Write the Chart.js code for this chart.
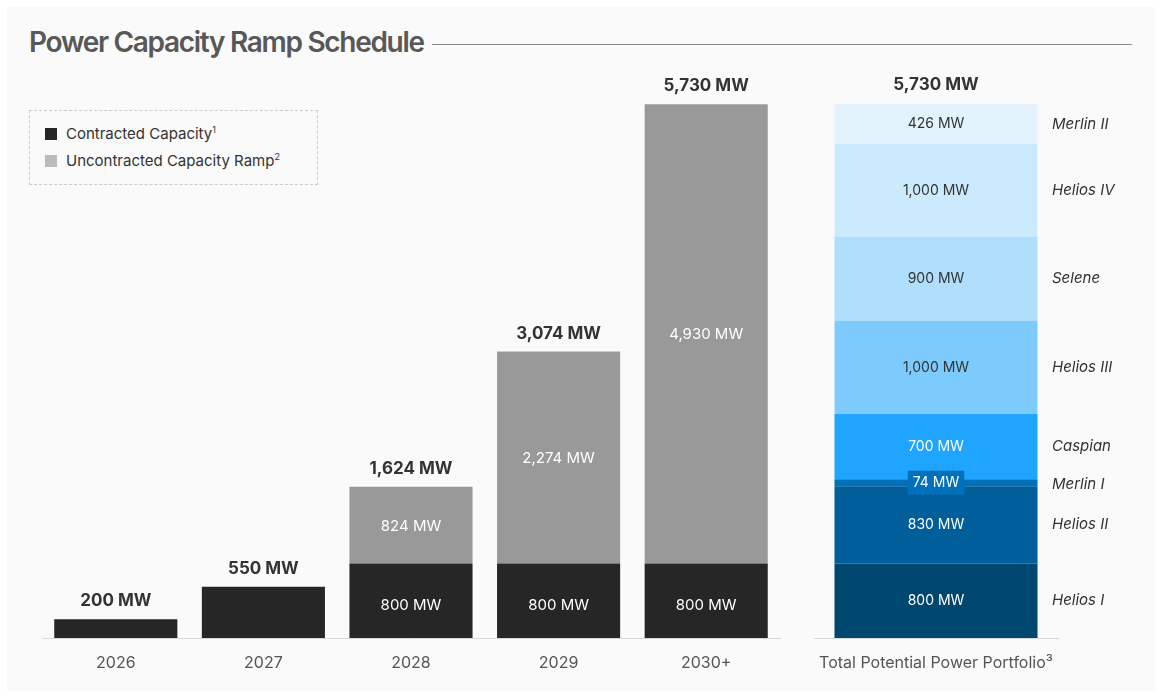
<!DOCTYPE html>
<html>
<head>
<meta charset="utf-8">
<script src="https://cdn.jsdelivr.net/npm/chart.js@4.4.1/dist/chart.umd.min.js"></script>
<style>
  html, body { margin:0; padding:0; background:#ffffff; }
  body { width:1162px; height:699px; position:relative; overflow:hidden; font-family: Inter, Roboto, sans-serif; }
  #panel { position:absolute; left:7px; top:7px; width:1148px; height:684px; background:#fafafa; }
  #title { position:absolute; left:29px; top:24px; font-family: Inter, sans-serif; font-weight:600; font-size:28px; letter-spacing:-1.3px; color:#585858; white-space:nowrap; line-height:36px; }
  #titleLine { position:absolute; left:432px; top:44px; width:700px; height:1px; background:#8a8a8a; }
  #legend { position:absolute; left:29px; top:110px; width:287px; height:73px; border:1px dashed #cccccc; }
  .li { position:absolute; left:15px; font-size:15px; color:#333; white-space:nowrap; line-height:18px; }
  .sw { display:inline-block; width:12px; height:12px; vertical-align:-1px; margin-right:9px; }
  .li sup { font-size:9px; vertical-align:6px; line-height:0; color:#333; }
  canvas { position:absolute; left:0; top:0; }
</style>
</head>
<body>
<div id="panel"></div>
<div id="title">Power Capacity Ramp Schedule</div>
<div id="titleLine"></div>
<div id="legend">
  <div class="li" style="top:14px"><span class="sw" style="background:#262626"></span>Contracted Capacity<sup>1</sup></div>
  <div class="li" style="top:41px"><span class="sw" style="background:#bbbbbb"></span>Uncontracted Capacity Ramp<sup>2</sup></div>
</div>
<canvas id="c1" width="1162" height="699"></canvas>
<canvas id="c2" width="1162" height="699"></canvas>
<script>
// ---- data ----
const years = ["2026", "2027", "2028", "2029", "2030+"];
const contracted = [200, 550, 800, 800, 800];
const uncontracted = [0, 0, 824, 2274, 4930];
const portfolioLabel = ["Total Potential Power Portfolio\u00B3"];
const projects = ["Helios I", "Helios II", "Merlin I", "Caspian", "Helios III", "Selene", "Helios IV", "Merlin II"];
const projectMW = [800, 830, 74, 700, 1000, 900, 1000, 426];
const projectColors = ["#00476f", "#005e9a", "#0070bb", "#1fa5ff", "#7dcbfd", "#afdffd", "#cceafe", "#e3f3fe"];
const projectTextDark = [false, false, false, false, true, true, true, true];
const yMax = 6000;

const fmt = v => v.toLocaleString('en-US') + ' MW';
const FONT = "Inter, Roboto, sans-serif";

const xAxisCommon = {
  grid: { display: false, drawTicks: false },
  border: { display: true, color: '#d9d9d9', width: 1 },
  ticks: { color: '#555555', font: { family: FONT, size: 16 }, padding: 16 },
  afterFit: s => { s.height = 61; }
};

// ---- left chart ----
const leftLabels = {
  id: 'leftLabels',
  afterDatasetsDraw(chart) {
    const ctx = chart.ctx;
    const y = chart.scales.y;
    const m0 = chart.getDatasetMeta(0), m1 = chart.getDatasetMeta(1);
    ctx.save();
    ctx.textAlign = 'center';
    ctx.textBaseline = 'middle';
    years.forEach((yr, i) => {
      const b0 = m0.data[i], b1 = m1.data[i];
      if (uncontracted[i] > 0) {
        ctx.fillStyle = '#ffffff';
        ctx.font = '15px ' + FONT;
        ctx.fillText(fmt(contracted[i]), b0.x, (b0.y + b0.base) / 2 + 5);
        ctx.fillText(fmt(uncontracted[i]), b1.x, (b1.y + b1.base) / 2 + 1);
      }
      const total = contracted[i] + uncontracted[i];
      ctx.fillStyle = '#333333';
      ctx.font = 'bold 17px ' + FONT;
      ctx.fillText(fmt(total), b0.x, y.getPixelForValue(total) - 18);
    });
    ctx.restore();
  }
};

new Chart(document.getElementById('c1'), {
  type: 'bar',
  data: {
    labels: years,
    datasets: [
      { label: 'Contracted Capacity', data: contracted, backgroundColor: '#262626', borderWidth: 0 },
      { label: 'Uncontracted Capacity Ramp', data: uncontracted, backgroundColor: '#999999', borderWidth: 0 }
    ]
  },
  options: {
    responsive: false, animation: false, devicePixelRatio: 1,
    layout: { padding: { left: 42, right: 382, top: 79, bottom: 0 } },
    datasets: { bar: { categoryPercentage: 1, barPercentage: 0.834 } },
    plugins: { legend: { display: false }, tooltip: { enabled: false } },
    scales: {
      x: Object.assign({ stacked: true }, xAxisCommon),
      y: { stacked: true, display: false, min: 0, max: yMax }
    }
  },
  plugins: [leftLabels]
});

// ---- right chart ----
const rightLabels = {
  id: 'rightLabels',
  afterDatasetsDraw(chart) {
    const ctx = chart.ctx;
    const y = chart.scales.y;
    ctx.save();
    ctx.textBaseline = 'middle';
    let total = 0;
    let cx = 0;
    projects.forEach((p, i) => {
      const b = chart.getDatasetMeta(i).data[0];
      cx = b.x;
      total += projectMW[i];
      const cy = (b.y + b.base) / 2;
      ctx.font = '14px ' + FONT;
      ctx.textAlign = 'center';
      const txt = fmt(projectMW[i]);
      if (Math.abs(b.base - b.y) < 20) {
        const w = ctx.measureText(txt).width + 10;
        ctx.fillStyle = projectColors[i];
        ctx.fillRect(cx - w / 2, cy - 12, w, 24);
      }
      ctx.fillStyle = projectTextDark[i] ? '#333333' : '#ffffff';
      ctx.fillText(txt, cx, cy);
      ctx.textAlign = 'left';
      ctx.fillStyle = '#333333';
      ctx.font = 'italic 15px ' + FONT;
      ctx.fillText(p, 1052, cy + (Math.abs(b.base - b.y) < 20 ? 2 : 0));
    });
    ctx.textAlign = 'center';
    ctx.fillStyle = '#333333';
    ctx.font = 'bold 17px ' + FONT;
    ctx.fillText(fmt(total), cx, y.getPixelForValue(total) - 19);
    ctx.restore();
  }
};

new Chart(document.getElementById('c2'), {
  type: 'bar',
  data: {
    labels: portfolioLabel,
    datasets: projects.map((p, i) => ({
      label: p, data: [projectMW[i]], backgroundColor: projectColors[i], borderWidth: 0
    }))
  },
  options: {
    responsive: false, animation: false, devicePixelRatio: 1,
    layout: { padding: { left: 814, right: 104, top: 79, bottom: 0 } },
    datasets: { bar: { categoryPercentage: 1, barPercentage: 0.832 } },
    plugins: { legend: { display: false }, tooltip: { enabled: false } },
    scales: {
      x: Object.assign({ stacked: true }, xAxisCommon),
      y: { stacked: true, display: false, min: 0, max: yMax }
    }
  },
  plugins: [rightLabels]
});
</script>
</body>
</html>
